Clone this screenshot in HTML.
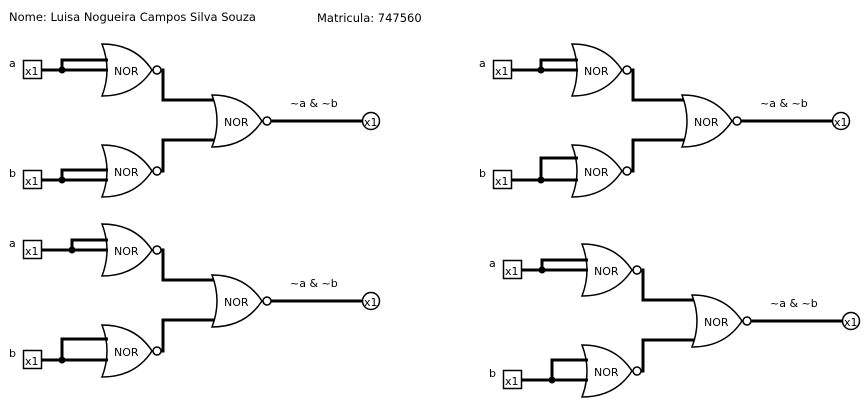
<!DOCTYPE html>
<html><head><meta charset="utf-8">
<style>
html,body{margin:0;padding:0;background:#fff;}
svg{display:block;font-family:"DejaVu Sans","Liberation Sans",sans-serif;}
</style></head>
<body>
<svg id="c" width="867" height="400" viewBox="0 0 867 400" xmlns="http://www.w3.org/2000/svg">
<text x="9" y="21" font-size="11.5" fill="#000">Nome: Luisa Nogueira Campos Silva Souza</text>
<text x="317" y="22" font-size="11.5" fill="#000">Matricula: 747560</text>
</svg>
<script>
// circuit offsets and loop geometry
const offX = [0, 470, 0, 480];
const offY = [0, 0, 180, 200];
const aDot = [62, 71, 72, 62];
const aTop = [60, 60, 60, 60];
const bDot = [62, 71, 62, 72];
const bTop = [170, 158, 159, 160];
const outLabel = ['~a & ~b', '~a & ~b', '~a & ~b', '~a & ~b'];

const svg = document.getElementById('c');
const NS = 'http://www.w3.org/2000/svg';
function el(tag, attrs, parent) {
  const e = document.createElementNS(NS, tag);
  for (const k in attrs) e.setAttribute(k, attrs[k]);
  (parent || svg).appendChild(e);
  return e;
}
function gatePath(x, cy) {
  const t = cy - 26, b = cy + 26;
  return `M${x},${t} Q${x+33},${t} ${x+50},${cy} Q${x+33},${b} ${x},${b} Q${x+10},${cy} ${x},${t} Z`;
}
for (let i = 0; i < offX.length; i++) {
  const g = el('g', {transform: `translate(${offX[i]},${offY[i]})`});
  
  
  const W = {stroke: '#000', 'stroke-width': 3, fill: 'none'};
  [['a', 70, aDot[i], aTop[i], 70], ['b', 180, bDot[i], bTop[i], 171]].forEach(([n, y, dx, top, gy], k) => {
    const lbl = el('text', {x: 9, y: y - 3, 'font-size': 11}, g);
    lbl.textContent = n;
    
    
    const box = el('rect', {x: 23.5, y: y - 9.5, width: 18, height: 18, fill: '#fff', stroke: '#000', 'stroke-width': 1.5}, g);
    
    
    const bt = el('text', {x: 25, y: y + 5, 'font-size': 11}, g);
    bt.textContent = 'x1';
    
    
    const gp = el('path', {d: gatePath(102, gy), fill: '#fff', stroke: '#000', 'stroke-width': 1.5}, g);
    
    
    const w = el('path', Object.assign({d: `M42,${y} H108 M${dx},${y} V${top} H108`}, W), g);
    
    
    const d = el('circle', {cx: dx, cy: y, r: 3.5, fill: '#000'}, g);
    
    
    const gt = el('text', {x: 114, y: gy + 5, 'font-size': 11}, g);
    gt.textContent = 'NOR';
    
    
    const bub = el('circle', {cx: 157, cy: gy, r: 4, fill: '#fff', stroke: '#000', 'stroke-width': 1.5}, g);
    
    
    const tgt = k === 0 ? 100 : 140;
    const ow = el('path', Object.assign({d: `M161,${gy} H163 V${tgt} H214`}, W), g);
    
    
  });
  const fp = el('path', {d: gatePath(212, 121), fill: '#fff', stroke: '#000', 'stroke-width': 1.5}, g);
  
  
  const ft = el('text', {x: 224, y: 126, 'font-size': 11}, g);
  ft.textContent = 'NOR';
  
  
  const fb = el('circle', {cx: 267, cy: 121, r: 4, fill: '#fff', stroke: '#000', 'stroke-width': 1.5}, g);
  
  
  const fw = el('path', Object.assign({d: 'M271,121 H363'}, W), g);
  
  
  const ol = el('text', {x: 290, y: 107, 'font-size': 11}, g);
  ol.textContent = outLabel[i];
  
  
  const oc = el('circle', {cx: 371, cy: 121, r: 8.5, fill: '#fff', stroke: '#000', 'stroke-width': 1.5}, g);
  
  
  const ot = el('text', {x: 364, y: 126, 'font-size': 11}, g);
  ot.textContent = 'x1';
  
  
}
</script>
</body></html>
